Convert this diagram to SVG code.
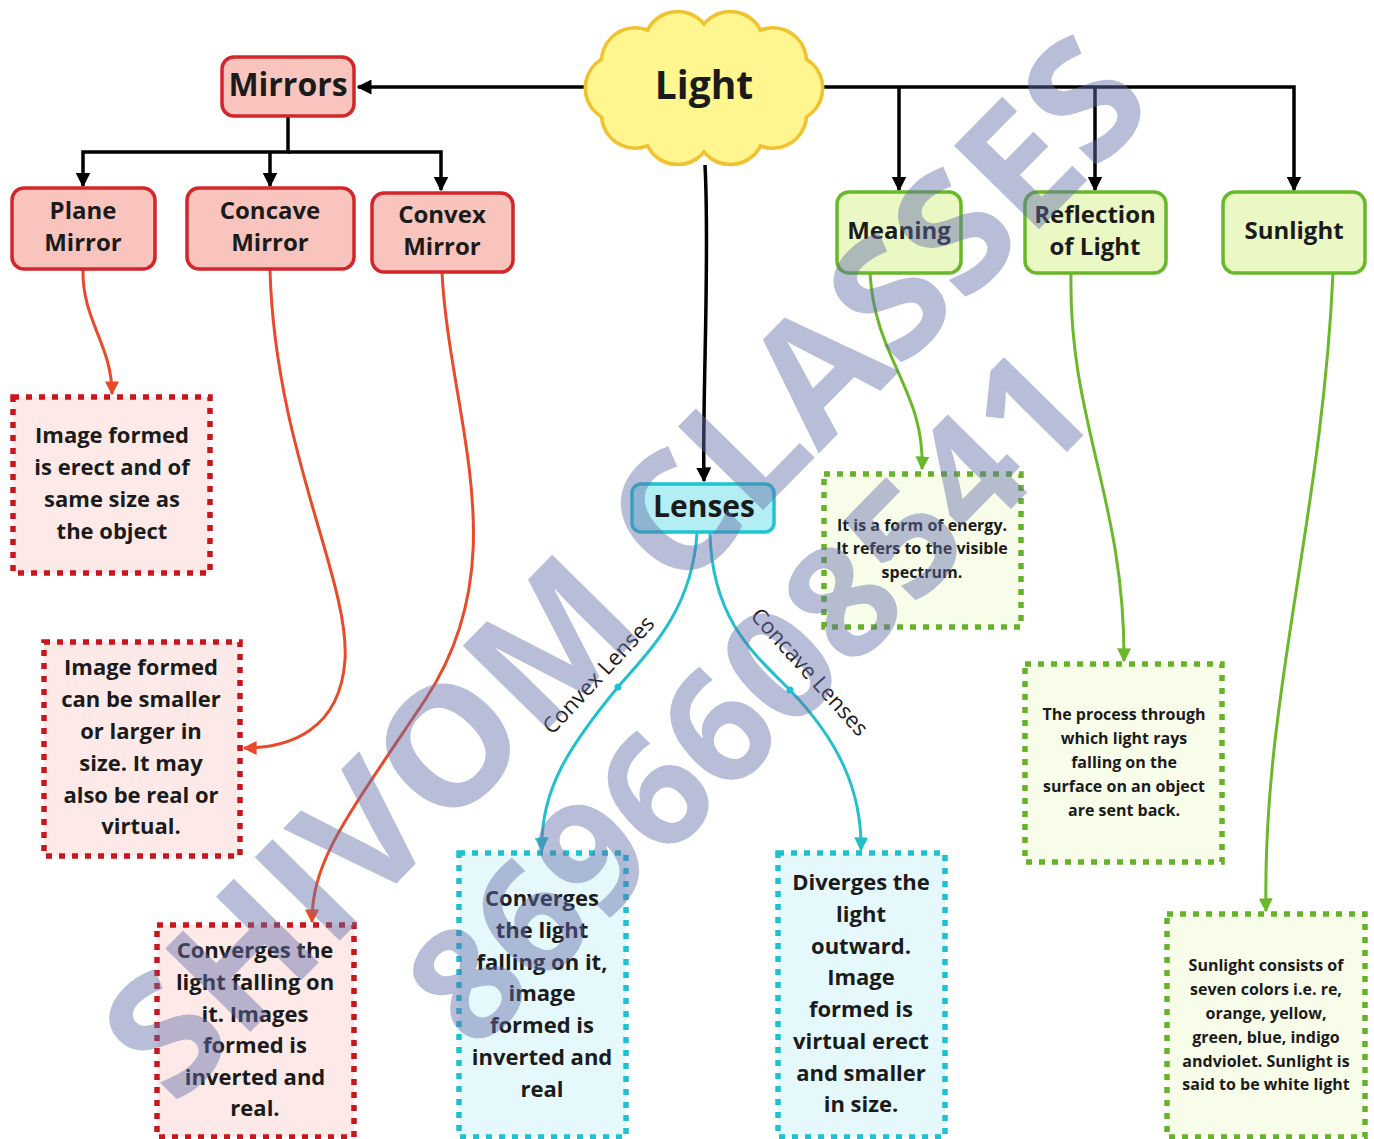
<svg xmlns="http://www.w3.org/2000/svg" width="1374" height="1139" viewBox="0 0 1374 1139">
<defs>
<style>
text{font-family:"Open Sans","Liberation Sans",sans-serif;fill:#1b1b1b;text-anchor:middle}
.t{font-weight:700}
.b{font-weight:700}
.red{fill:#f8c4bd;stroke:#d3262a;stroke-width:3.5}
.grn{fill:#eaf8c4;stroke:#67b82a;stroke-width:3.5}
.cyn{fill:#b2eef3;stroke:#1ec5d1;stroke-width:3.5}
.dred{fill:#fdeae8;stroke:#c8161e;stroke-width:5.5;stroke-dasharray:6 7}
.dgrn{fill:#f8fdea;stroke:#66b32a;stroke-width:5.5;stroke-dasharray:6 7}
.dcyn{fill:#e5f8fb;stroke:#1fc0cf;stroke-width:5.5;stroke-dasharray:6 7}
.k{fill:none;stroke:#000;stroke-width:3.5}
.o{fill:none;stroke:#e84a2a;stroke-width:3}
.g{fill:none;stroke:#6bb82a;stroke-width:3}
.c{fill:none;stroke:#22c0cc;stroke-width:3}
.wm{font-family:"Open Sans","Liberation Sans",sans-serif;font-weight:700;fill:#646eaa;opacity:0.45;text-anchor:middle}
</style>
<marker id="ak" viewBox="0 0 10 10" refX="9" refY="5" markerUnits="userSpaceOnUse" markerWidth="15" markerHeight="15" orient="auto"><path d="M0,0 L10,5 L0,10 z" fill="#000"/></marker>
<marker id="ao" viewBox="0 0 10 10" refX="9" refY="5" markerUnits="userSpaceOnUse" markerWidth="14" markerHeight="14" orient="auto"><path d="M0,0 L10,5 L0,10 z" fill="#e84a2a"/></marker>
<marker id="ag" viewBox="0 0 10 10" refX="9" refY="5" markerUnits="userSpaceOnUse" markerWidth="14" markerHeight="14" orient="auto"><path d="M0,0 L10,5 L0,10 z" fill="#6bb82a"/></marker>
<marker id="ac" viewBox="0 0 10 10" refX="9" refY="5" markerUnits="userSpaceOnUse" markerWidth="14" markerHeight="14" orient="auto"><path d="M0,0 L10,5 L0,10 z" fill="#22c0cc"/></marker>
<g id="cloudshape">
<circle cx="789" cy="88" r="32"/><circle cx="772.8" cy="114.5" r="32"/><circle cx="730.3" cy="130.8" r="32"/><circle cx="677.7" cy="130.8" r="32"/><circle cx="635.2" cy="114.5" r="32"/><circle cx="619" cy="88" r="32"/><circle cx="635.2" cy="61.5" r="32"/><circle cx="677.7" cy="45.2" r="32"/><circle cx="730.3" cy="45.2" r="32"/><circle cx="772.8" cy="61.5" r="32"/><ellipse cx="704" cy="88" rx="85" ry="50"/>
</g>
</defs>
<rect width="1374" height="1139" fill="#fff"/>

<g id="connectors">
<path class="k" d="M588,87 H358" marker-end="url(#ak)"/>
<path class="k" d="M288,117 V152 H83 V186" marker-end="url(#ak)"/>
<path class="k" d="M288,152 H441 V190" marker-end="url(#ak)"/>
<path class="k" d="M270,152 V186" marker-end="url(#ak)"/>
<path class="k" d="M820,87 H1294 V190" marker-end="url(#ak)"/>
<path class="k" d="M899,87 V190" marker-end="url(#ak)"/>
<path class="k" d="M1095,87 V190" marker-end="url(#ak)"/>
<path class="k" d="M705,165 C710,260 702,400 704,481" marker-end="url(#ak)"/>
<path class="o" d="M83,270 C82,320 112,345 112,394" marker-end="url(#ao)"/>
<path class="o" d="M270,270 C275,450 350,580 345,660 C340,730 290,748 244,748" marker-end="url(#ao)"/>
<path class="o" d="M442,273 C450,420 518,560 425,700 C345,820 312,860 312,922" marker-end="url(#ao)"/>
<path class="g" d="M870,273 C875,360 925,390 922,469" marker-end="url(#ag)"/>
<path class="g" d="M1071,273 C1068,420 1125,500 1124,661" marker-end="url(#ag)"/>
<path class="g" d="M1333,273 C1322,520 1262,700 1266,911" marker-end="url(#ag)"/>
<path class="c" d="M697,533 C692,610 650,650 618,687 C570,745 540,790 542,850" marker-end="url(#ac)"/>
<path class="c" d="M710,533 C712,620 755,655 790,690 C838,740 862,790 861,850" marker-end="url(#ac)"/>
<circle cx="618" cy="687" r="3.5" fill="#22c0cc"/>
<circle cx="790" cy="690" r="3.5" fill="#22c0cc"/>
<text x="0" y="0" font-size="22" transform="translate(604,680) rotate(-47)">Convex Lenses</text>
<text x="0" y="0" font-size="22" transform="translate(804,677) rotate(48)">Concave Lenses</text>
</g>

<g id="light">
<use href="#cloudshape" fill="#f2c12e" stroke="#f2c12e" stroke-width="7"/>
<use href="#cloudshape" fill="#fff68f"/>
<text class="t" x="704" y="99" font-size="39">Light</text>
</g>
<g id="mirrors">
<rect class="red" x="222" y="57" width="132" height="59" rx="12"/>
<text class="t" x="288" y="96" font-size="32">Mirrors</text>
</g>
<g id="plane-mirror">
<rect class="red" x="12" y="188" width="143" height="81" rx="12"/>
<text class="t" font-size="24"><tspan x="83" y="219">Plane</tspan><tspan x="83" y="251">Mirror</tspan></text>
</g>
<g id="concave-mirror">
<rect class="red" x="187" y="188" width="167" height="81" rx="12"/>
<text class="t" font-size="24"><tspan x="270" y="219">Concave</tspan><tspan x="270" y="251">Mirror</tspan></text>
</g>
<g id="convex-mirror">
<rect class="red" x="372" y="193" width="141" height="79" rx="12"/>
<text class="t" font-size="24"><tspan x="442" y="223">Convex</tspan><tspan x="442" y="255">Mirror</tspan></text>
</g>
<g id="meaning">
<rect class="grn" x="837" y="192" width="124" height="81" rx="12"/>
<text class="t" x="899" y="239" font-size="24">Meaning</text>
</g>
<g id="reflection">
<rect class="grn" x="1025" y="192" width="141" height="81" rx="12"/>
<text class="t" font-size="24"><tspan x="1095" y="223">Reflection</tspan><tspan x="1095" y="255">of Light</tspan></text>
</g>
<g id="sunlight">
<rect class="grn" x="1223" y="192" width="142" height="81" rx="12"/>
<text class="t" x="1294" y="239" font-size="24">Sunlight</text>
</g>
<g id="lenses">
<rect class="cyn" x="632" y="484" width="142" height="48" rx="9"/>
<text class="t" x="704" y="517" font-size="30">Lenses</text>
</g>

<g id="plane-desc">
<rect class="dred" x="13" y="397" width="197" height="176"/>
<text class="b" font-size="22"><tspan x="112" y="443">Image formed</tspan><tspan x="112" y="475">is erect and of</tspan><tspan x="112" y="507">same size as</tspan><tspan x="112" y="539">the object</tspan></text>
</g>
<g id="concave-desc">
<rect class="dred" x="44" y="642" width="196" height="214"/>
<text class="b" font-size="22"><tspan x="141" y="675">Image formed</tspan><tspan x="141" y="707">can be smaller</tspan><tspan x="141" y="739">or larger in</tspan><tspan x="141" y="771">size. It may</tspan><tspan x="141" y="803">also be real or</tspan><tspan x="141" y="834">virtual.</tspan></text>
</g>
<g id="convex-desc">
<rect class="dred" x="157" y="925" width="197" height="212"/>
<text class="b" font-size="22"><tspan x="255" y="958">Converges the</tspan><tspan x="255" y="990">light falling on</tspan><tspan x="255" y="1022">it. Images</tspan><tspan x="255" y="1053">formed is</tspan><tspan x="255" y="1085">inverted and</tspan><tspan x="255" y="1116">real.</tspan></text>
</g>
<g id="convex-lens-desc">
<rect class="dcyn" x="459" y="853" width="167" height="284"/>
<text class="b" font-size="22"><tspan x="542" y="906">Converges</tspan><tspan x="542" y="938">the light</tspan><tspan x="542" y="970">falling on it,</tspan><tspan x="542" y="1001">image</tspan><tspan x="542" y="1033">formed is</tspan><tspan x="542" y="1065">inverted and</tspan><tspan x="542" y="1097">real</tspan></text>
</g>
<g id="concave-lens-desc">
<rect class="dcyn" x="778" y="853" width="167" height="284"/>
<text class="b" font-size="22"><tspan x="861" y="890">Diverges the</tspan><tspan x="861" y="922">light</tspan><tspan x="861" y="954">outward.</tspan><tspan x="861" y="985">Image</tspan><tspan x="861" y="1017">formed is</tspan><tspan x="861" y="1049">virtual erect</tspan><tspan x="861" y="1081">and smaller</tspan><tspan x="861" y="1112">in size.</tspan></text>
</g>
<g id="meaning-desc">
<rect class="dgrn" x="824" y="474" width="197" height="153"/>
<text class="b" font-size="16"><tspan x="922" y="531">It is a form of energy.</tspan><tspan x="922" y="554">It refers to the visible</tspan><tspan x="922" y="578">spectrum.</tspan></text>
</g>
<g id="reflection-desc">
<rect class="dgrn" x="1025" y="664" width="197" height="198"/>
<text class="b" font-size="16"><tspan x="1124" y="720">The process through</tspan><tspan x="1124" y="744">which light rays</tspan><tspan x="1124" y="768">falling on the</tspan><tspan x="1124" y="792">surface on an object</tspan><tspan x="1124" y="816">are sent back.</tspan></text>
</g>
<g id="sunlight-desc">
<rect class="dgrn" x="1167" y="914" width="198" height="223"/>
<text class="b" font-size="16"><tspan x="1266" y="971">Sunlight consists of</tspan><tspan x="1266" y="995">seven colors i.e. re,</tspan><tspan x="1266" y="1019">orange, yellow,</tspan><tspan x="1266" y="1043">green, blue, indigo</tspan><tspan x="1266" y="1067">andviolet. Sunlight is</tspan><tspan x="1266" y="1090">said to be white light</tspan></text>
</g>

<g id="watermark" transform="translate(624,566) rotate(-45.5)">
<text class="wm" x="0" y="60" font-size="167">SHIVOM CLASSES</text>
<text class="wm" x="-6" y="236" font-size="156">8696608541</text>
</g>
</svg>
